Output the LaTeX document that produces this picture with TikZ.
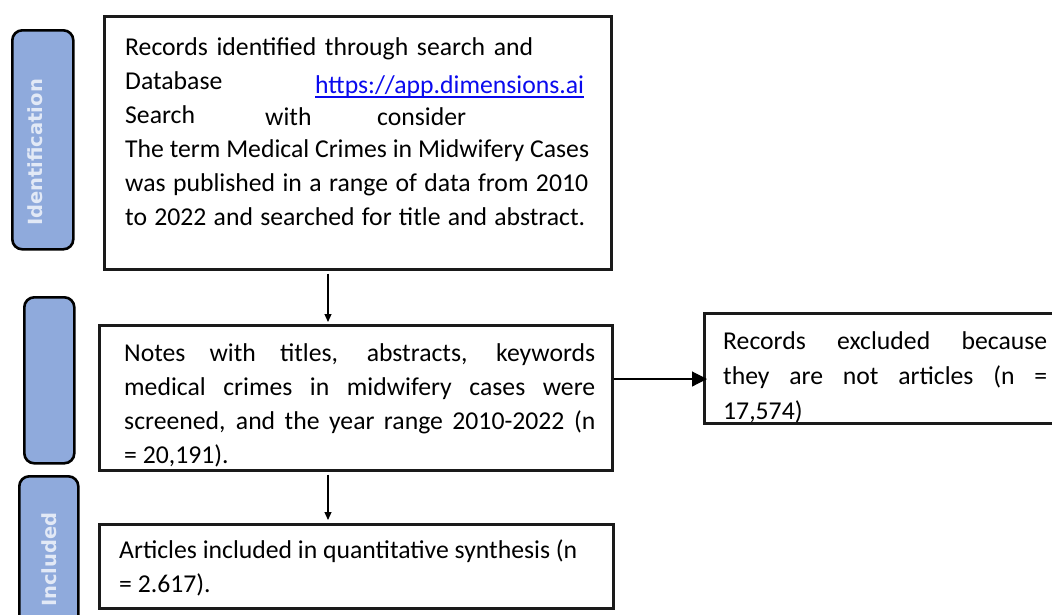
\documentclass[tikz,border=0pt]{standalone}
\usepackage{fontspec}
\setmainfont{Carlito}
\newfontfamily\pillfont{DejaVu Sans}
\newcommand{\myuline}[1]{\setbox0\hbox{#1}\rlap{\rule[-4.5pt]{\wd0}{1.8pt}}\box0}
\usetikzlibrary{arrows.meta}
\definecolor{pillblue}{HTML}{8FAADC}
\definecolor{pilltext}{HTML}{E2E9F6}
\definecolor{linkblue}{HTML}{0A0AEE}
\definecolor{edgecol}{HTML}{1A1A1A}
\begin{document}
\begin{tikzpicture}[x=1pt,y=-1pt,
  boxnode/.style={draw=edgecol, line width=2.6pt, fill=white, inner sep=0pt, anchor=north west},
  pillnode/.style={draw=black, line width=2.6pt, fill=pillblue, rounded corners=10pt, inner sep=0pt, anchor=north west},
  pilltxt/.style={font=\pillfont\bfseries\fontsize{19.5}{20}\selectfont, text=pilltext, rotate=90, inner sep=0pt},
  txt/.style={font=\fontsize{25.7}{34}\selectfont, anchor=base west, inner sep=0pt, text=black},
  thinarrow/.style={line width=1.1pt, -{Triangle[length=8pt,width=7pt]}},
  bigarrow/.style={line width=1.1pt, -{Triangle[length=15pt,width=15pt]}}
]
\useasboundingbox (0,0) rectangle (1052,614);
\fill[white] (0,0) rectangle (1052,614);
\clip (0,0) rectangle (1052,614);

% side labels
\node[pillnode, minimum width=61pt, minimum height=219pt] (pid) at (11,29) {};
\node[pilltxt] (tid) at (35,152.5) {Identification};
\node[pillnode, minimum width=50pt, minimum height=166pt] (pscr) at (23,296) {};
\node[pillnode, minimum width=59pt, minimum height=180pt] (pinc) at (18,475) {};
\node[pilltxt] (tinc) at (49.5,559.5) {Included};

% boxes
\node[boxnode, minimum width=507pt, minimum height=253pt] (id) at (103,15) {};
\node[boxnode, minimum width=513pt, minimum height=145pt] (scr) at (98,324) {};
\node[boxnode, minimum width=514pt, minimum height=84pt] (inc) at (98,523) {};
\node[boxnode, minimum width=420pt, minimum height=110pt] (excl) at (703,312) {};

% box 1 text
\node[txt] (l1) at (125,55) {\makebox[408pt][s]{Records identified through search and}};
\node[txt] (l2) at (125,89) {Database};
\node[txt, text=linkblue] (url) at (315,93) {\myuline{https://app.dimensions.ai}};
\node[txt] (l3) at (125,123) {Search};
\node[txt] (l3b) at (265,125) {with};
\node[txt] (l3c) at (377,125) {consider};
\node[txt] (l4) at (125,157) {The term Medical Crimes in Midwifery Cases};
\node[txt] (l5) at (125,191) {\makebox[463pt][s]{was published in a range of data from 2010}};
\node[txt] (l6) at (125,225) {\makebox[460pt][s]{to 2022 and searched for title and abstract.}};

% box 2 text
\node[txt] (s1) at (124,361) {\makebox[471pt][s]{Notes with titles, abstracts, keywords}};
\node[txt] (s2) at (124,395) {\makebox[471pt][s]{medical crimes in midwifery cases were}};
\node[txt] (s3) at (124,429) {\makebox[471pt][s]{screened, and the year range 2010-2022 (n}};
\node[txt] (s4) at (124,463) {= 20,191).};

% box 3 text
\node[txt] (i1) at (119,558) {Articles included in quantitative synthesis (n};
\node[txt] (i2) at (119,592) {= 2.617).};

% box 4 text
\node[txt] (e1) at (723,349) {\makebox[324pt][s]{Records excluded because}};
\node[txt] (e2) at (723,384) {\makebox[324pt][s]{they are not articles (n =}};
\node[txt] (e3) at (723,419) {17,574)};

% connectors
\coordinate (ax) at (328,0);
\coordinate (ay) at (0,379);
\draw[thinarrow, shorten <=3pt, shorten >=2pt] (id.south -| ax) -- (scr.north -| ax);
\draw[thinarrow, shorten <=3pt, shorten >=3pt] (scr.south -| ax) -- (inc.north -| ax);
\draw[bigarrow, shorten >=-4pt] (scr.east |- ay) -- (excl.west |- ay);
\end{tikzpicture}
\end{document}
